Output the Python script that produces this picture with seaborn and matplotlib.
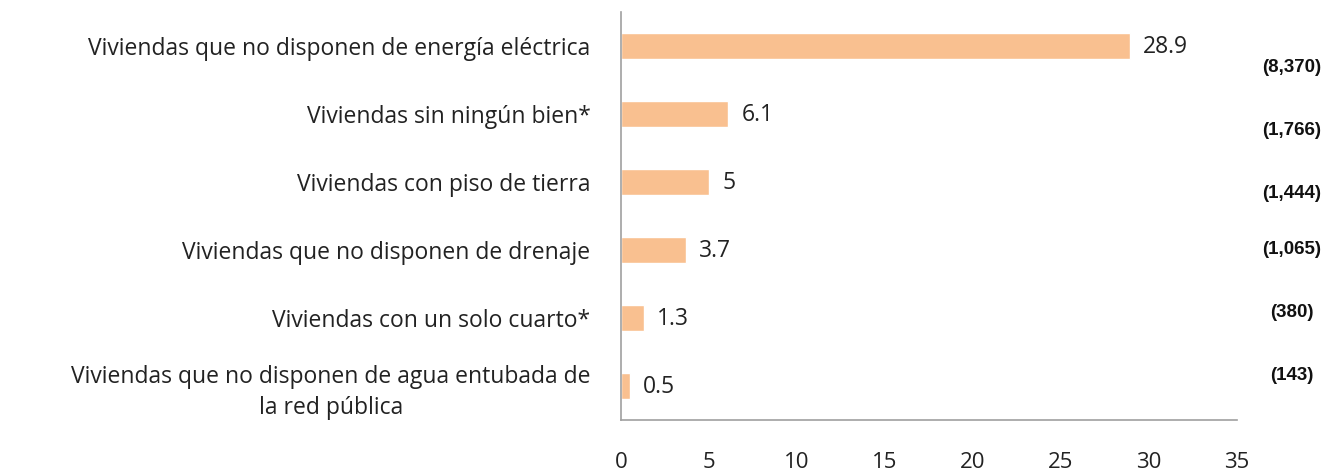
import pandas as pd
import seaborn as sns
import matplotlib.pyplot as plt

categories = [
    "Viviendas que no disponen de energía eléctrica",
    "Viviendas sin ningún bien*",
    "Viviendas con piso de tierra",
    "Viviendas que no disponen de drenaje",
    "Viviendas con un solo cuarto*",
    "Viviendas que no disponen de agua entubada de\nla red pública",
]
percent = [28.9, 6.1, 5, 3.7, 1.3, 0.5]
value_labels = ["28.9", "6.1", "5", "3.7", "1.3", "0.5"]
counts = ["(8,370)", "(1,766)", "(1,444)", "(1,065)", "(380)", "(143)"]
x_ticks = [0, 5, 10, 15, 20, 25, 30, 35]

df = pd.DataFrame({"Categoria": categories, "Porcentaje": percent})

sns.set_style("white")
plt.rcParams["font.family"] = ["Open Sans", "DejaVu Sans"]

fig = plt.figure(figsize=(13.3, 4.72), dpi=100)
ax = fig.add_axes([0.467, 0.110, 0.463, 0.865])

sns.barplot(data=df, x="Porcentaje", y="Categoria", color="#F9C090",
            saturation=1, width=0.38, ax=ax)

ax.set_xlim(0, 35)
ax.set_xticks(x_ticks)
ax.set_xticklabels([str(t) for t in x_ticks], fontsize=16, color="#222222")
ax.tick_params(axis="x", length=0, pad=23)
ax.tick_params(axis="y", length=0, pad=22)
for lab in ax.get_yticklabels():
    lab.set_fontsize(16.5)
    lab.set_color("#222222")
    lab.set_multialignment("center")
    lab.set_linespacing(1.4)
ax.set_xlabel("")
ax.set_ylabel("")

for side in ["top", "right"]:
    ax.spines[side].set_visible(False)
for side in ["left", "bottom"]:
    ax.spines[side].set_color("#A0A0A0")
    ax.spines[side].set_linewidth(1.2)

# valores al final de cada barra
for i, (v, txt) in enumerate(zip(percent, value_labels)):
    ax.text(v + 0.75, i + 0.02, txt, va="center", ha="left", fontsize=16.5,
            color="#222222")

# numero de viviendas a la derecha
for i, c in enumerate(counts):
    offset = [0.32, 0.25, 0.17, 0.0, -0.08, -0.15][i]
    ax.text(38.1, i + offset, c, va="center", ha="center", fontsize=13.5,
            fontweight="bold", color="#111111",
            family=["Liberation Sans Narrow", "Liberation Sans", "DejaVu Sans"],
            clip_on=False)

fig.savefig("out.png", dpi=100)
